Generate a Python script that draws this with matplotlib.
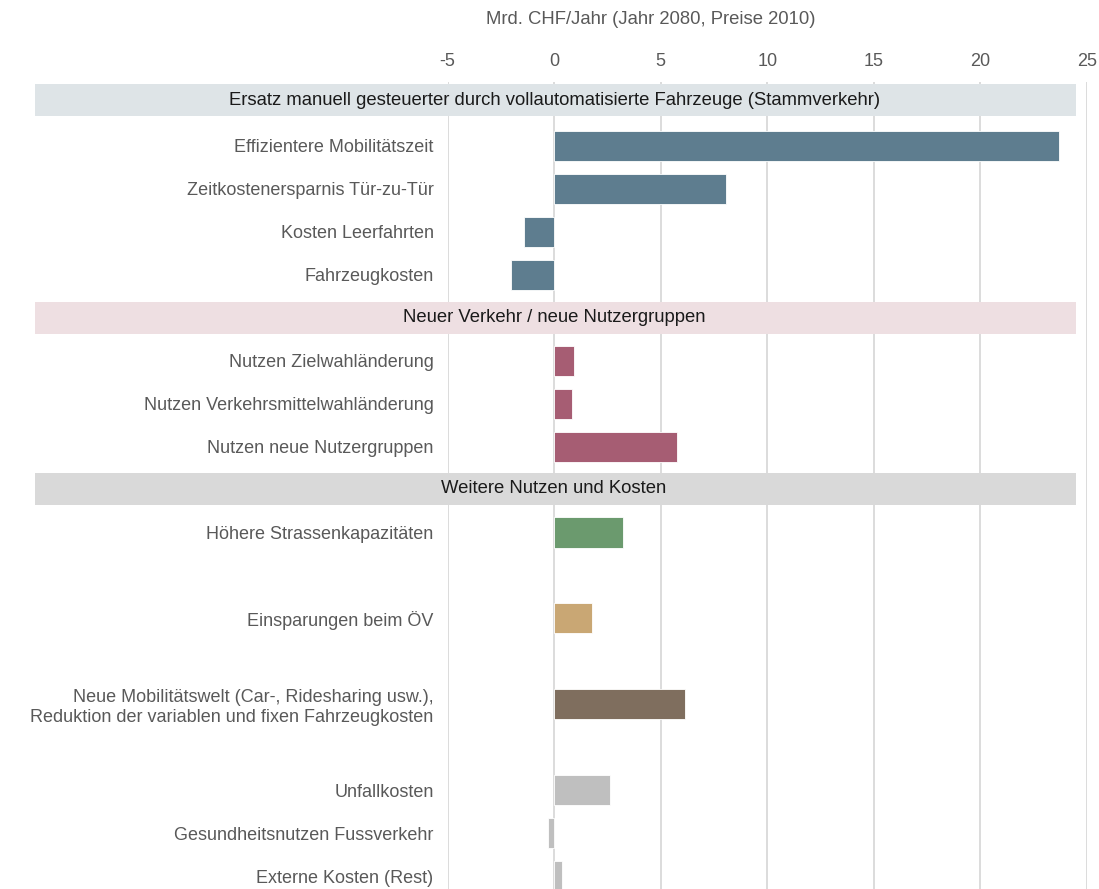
import matplotlib
matplotlib.use("Agg")
import matplotlib.pyplot as plt
from matplotlib.patches import Rectangle

plt.rcParams['font.family'] = ['Liberation Sans', 'DejaVu Sans']

# ---- data ----
sections = [
    "Ersatz manuell gesteuerter durch vollautomatisierte Fahrzeuge (Stammverkehr)",
    "Neuer Verkehr / neue Nutzergruppen",
    "Weitere Nutzen und Kosten",
]
section_rows = [-0.07, 5, 8.98]
section_colors = ["#DEE4E7", "#EEDFE2", "#D9D9D9"]

categories = [
    "Effizientere Mobilitätszeit",
    "Zeitkostenersparnis Tür-zu-Tür",
    "Kosten Leerfahrten",
    "Fahrzeugkosten",
    "Nutzen Zielwahländerung",
    "Nutzen Verkehrsmittelwahländerung",
    "Nutzen neue Nutzergruppen",
    "Höhere Strassenkapazitäten",
    "Einsparungen beim ÖV",
    "Neue Mobilitätswelt (Car-, Ridesharing usw.),\nReduktion der variablen und fixen Fahrzeugkosten",
    "Unfallkosten",
    "Gesundheitsnutzen Fussverkehr",
    "Externe Kosten (Rest)",
]
values = [23.7, 8.05, -1.4, -2.0, 0.95, 0.85, 5.75, 3.25, 1.8, 6.12, 2.62, -0.28, 0.35]
rows = [1, 2, 3, 4, 6, 7, 8, 10, 12, 14, 16, 17, 18]
colors = ["#5E7D8F"] * 4 + ["#A65D73"] * 3 + ["#6B9A6E", "#C9A774", "#7F6E5E",
                                              "#BFBFBF", "#BFBFBF", "#BFBFBF"]
xticks = [-5, 0, 5, 10, 15, 20, 25]
xlabel = "Mrd. CHF/Jahr (Jahr 2080, Preise 2010)"

# ---- figure ----
W, H = 1099, 889
fig = plt.figure(figsize=(W / 100, H / 100), dpi=100)
ax = fig.add_axes([447.5 / W, 0.0, (1087 - 447.5) / W, (H - 82) / H])
ax.set_xlim(-5, 25)
ax.set_ylim(18.30, -0.49)

for x in xticks:
    ax.axvline(x, color="#D9D9D9", lw=1.3, zorder=0)

for txt, r, c in zip(sections, section_rows, section_colors):
    ax.add_patch(Rectangle((-24.33, r - 0.3725), 48.83, 0.745, facecolor=c,
                           edgecolor="none", clip_on=False, zorder=1))
    ax.text(0, r, txt, ha="center", va="center", fontsize=13.3,
            color="#1A1A1A", zorder=3)

ax.barh(rows, values, height=0.7, color=colors, edgecolor="white",
        linewidth=0.6, zorder=2)

ax.set_yticks(rows)
ax.set_yticklabels(categories, fontsize=13, color="#595959")
ax.tick_params(axis="y", length=0, pad=10)
for lab in ax.get_yticklabels():
    lab.set_horizontalalignment("right")
    lab.set_multialignment("right")

ax.xaxis.tick_top()
ax.set_xticks(xticks)
ax.set_xticklabels([str(x) for x in xticks], fontsize=13, color="#595959")
ax.tick_params(axis="x", length=0, pad=9)

for s in ax.spines.values():
    s.set_visible(False)

fig.text(651 / W, 1 - 20 / H, xlabel, ha="center", va="center",
         fontsize=13.3, color="#595959")

fig.savefig("out.png", dpi=100)
